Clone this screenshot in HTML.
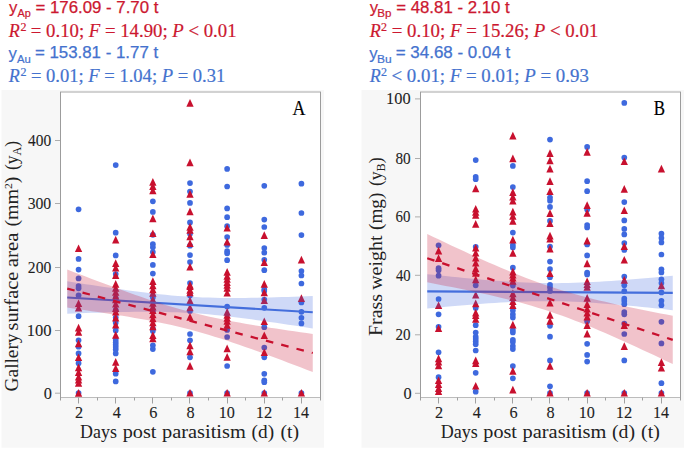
<!DOCTYPE html>
<html><head><meta charset="utf-8"><style>
html,body{margin:0;padding:0;background:#fff;width:685px;height:449px;overflow:hidden}
svg{display:block}

</style></head><body>
<svg width="685" height="449" viewBox="0 0 685 449">
<rect width="685" height="449" fill="#fff"/>
<rect x="1.5" y="90" width="322.5" height="357.7" fill="#f7f7f7"/>
<rect x="60.5" y="91.5" width="260" height="306" fill="#fff"/>
<g fill="rgb(62,105,222)"><circle cx="78.57" cy="209.30" r="2.85"/><circle cx="78.57" cy="258.90" r="2.85"/><circle cx="78.57" cy="269.60" r="2.85"/><circle cx="78.57" cy="278.40" r="2.85"/><circle cx="78.57" cy="286.00" r="2.85"/><circle cx="78.57" cy="288.30" r="2.85"/><circle cx="78.57" cy="295.40" r="2.85"/><circle cx="78.57" cy="316.20" r="2.85"/><circle cx="78.57" cy="340.30" r="2.85"/><circle cx="78.57" cy="346.70" r="2.85"/><circle cx="78.57" cy="353.40" r="2.85"/><circle cx="78.57" cy="363.20" r="2.85"/><circle cx="78.57" cy="393.00" r="2.85"/><circle cx="115.71" cy="165.10" r="2.85"/><circle cx="115.71" cy="232.70" r="2.85"/><circle cx="115.71" cy="255.40" r="2.85"/><circle cx="115.71" cy="274.00" r="2.85"/><circle cx="115.71" cy="298.00" r="2.85"/><circle cx="115.71" cy="310.00" r="2.85"/><circle cx="115.71" cy="317.50" r="2.85"/><circle cx="115.71" cy="322.80" r="2.85"/><circle cx="115.71" cy="330.40" r="2.85"/><circle cx="115.71" cy="340.10" r="2.85"/><circle cx="115.71" cy="342.50" r="2.85"/><circle cx="115.71" cy="344.80" r="2.85"/><circle cx="115.71" cy="347.10" r="2.85"/><circle cx="115.71" cy="349.50" r="2.85"/><circle cx="115.71" cy="353.40" r="2.85"/><circle cx="115.71" cy="373.70" r="2.85"/><circle cx="115.71" cy="381.40" r="2.85"/><circle cx="152.86" cy="201.30" r="2.85"/><circle cx="152.86" cy="211.90" r="2.85"/><circle cx="152.86" cy="234.80" r="2.85"/><circle cx="152.86" cy="244.20" r="2.85"/><circle cx="152.86" cy="247.30" r="2.85"/><circle cx="152.86" cy="252.00" r="2.85"/><circle cx="152.86" cy="264.90" r="2.85"/><circle cx="152.86" cy="273.60" r="2.85"/><circle cx="152.86" cy="297.60" r="2.85"/><circle cx="152.86" cy="311.40" r="2.85"/><circle cx="152.86" cy="328.70" r="2.85"/><circle cx="152.86" cy="331.00" r="2.85"/><circle cx="152.86" cy="345.30" r="2.85"/><circle cx="152.86" cy="349.10" r="2.85"/><circle cx="152.86" cy="371.80" r="2.85"/><circle cx="190.00" cy="183.10" r="2.85"/><circle cx="190.00" cy="191.60" r="2.85"/><circle cx="190.00" cy="202.90" r="2.85"/><circle cx="190.00" cy="222.40" r="2.85"/><circle cx="190.00" cy="233.70" r="2.85"/><circle cx="190.00" cy="245.70" r="2.85"/><circle cx="190.00" cy="255.10" r="2.85"/><circle cx="190.00" cy="262.10" r="2.85"/><circle cx="190.00" cy="283.10" r="2.85"/><circle cx="190.00" cy="295.60" r="2.85"/><circle cx="190.00" cy="310.90" r="2.85"/><circle cx="190.00" cy="334.00" r="2.85"/><circle cx="190.00" cy="340.30" r="2.85"/><circle cx="190.00" cy="357.30" r="2.85"/><circle cx="190.00" cy="393.00" r="2.85"/><circle cx="227.14" cy="168.90" r="2.85"/><circle cx="227.14" cy="186.50" r="2.85"/><circle cx="227.14" cy="208.40" r="2.85"/><circle cx="227.14" cy="217.20" r="2.85"/><circle cx="227.14" cy="226.20" r="2.85"/><circle cx="227.14" cy="237.10" r="2.85"/><circle cx="227.14" cy="245.00" r="2.85"/><circle cx="227.14" cy="251.20" r="2.85"/><circle cx="227.14" cy="253.50" r="2.85"/><circle cx="227.14" cy="260.20" r="2.85"/><circle cx="227.14" cy="306.50" r="2.85"/><circle cx="227.14" cy="330.00" r="2.85"/><circle cx="227.14" cy="337.00" r="2.85"/><circle cx="227.14" cy="366.00" r="2.85"/><circle cx="227.14" cy="393.00" r="2.85"/><circle cx="264.28" cy="185.80" r="2.85"/><circle cx="264.28" cy="219.60" r="2.85"/><circle cx="264.28" cy="227.00" r="2.85"/><circle cx="264.28" cy="248.10" r="2.85"/><circle cx="264.28" cy="252.70" r="2.85"/><circle cx="264.28" cy="259.80" r="2.85"/><circle cx="264.28" cy="270.20" r="2.85"/><circle cx="264.28" cy="289.40" r="2.85"/><circle cx="264.28" cy="291.00" r="2.85"/><circle cx="264.28" cy="299.50" r="2.85"/><circle cx="264.28" cy="307.80" r="2.85"/><circle cx="264.28" cy="327.20" r="2.85"/><circle cx="264.28" cy="347.50" r="2.85"/><circle cx="264.28" cy="357.30" r="2.85"/><circle cx="264.28" cy="373.80" r="2.85"/><circle cx="264.28" cy="380.30" r="2.85"/><circle cx="264.28" cy="382.20" r="2.85"/><circle cx="264.28" cy="393.00" r="2.85"/><circle cx="301.42" cy="183.70" r="2.85"/><circle cx="301.42" cy="213.00" r="2.85"/><circle cx="301.42" cy="235.10" r="2.85"/><circle cx="301.42" cy="271.00" r="2.85"/><circle cx="301.42" cy="275.50" r="2.85"/><circle cx="301.42" cy="283.50" r="2.85"/><circle cx="301.42" cy="302.40" r="2.85"/><circle cx="301.42" cy="311.80" r="2.85"/><circle cx="301.42" cy="317.80" r="2.85"/><circle cx="301.42" cy="323.40" r="2.85"/><circle cx="301.42" cy="393.00" r="2.85"/></g>
<g fill="rgb(200,16,46)"><path d="M78.57,244.40L82.22,252.10L74.92,252.10Z"/><path d="M78.57,299.40L82.22,307.10L74.92,307.10Z"/><path d="M78.57,303.90L82.22,311.60L74.92,311.60Z"/><path d="M78.57,323.70L82.22,331.40L74.92,331.40Z"/><path d="M78.57,328.10L82.22,335.80L74.92,335.80Z"/><path d="M78.57,339.50L82.22,347.20L74.92,347.20Z"/><path d="M78.57,353.40L82.22,361.10L74.92,361.10Z"/><path d="M78.57,363.50L82.22,371.20L74.92,371.20Z"/><path d="M78.57,368.20L82.22,375.90L74.92,375.90Z"/><path d="M78.57,372.90L82.22,380.60L74.92,380.60Z"/><path d="M78.57,375.70L82.22,383.40L74.92,383.40Z"/><path d="M78.57,379.10L82.22,386.80L74.92,386.80Z"/><path d="M78.57,389.10L82.22,396.80L74.92,396.80Z"/><path d="M115.71,235.80L119.36,243.50L112.06,243.50Z"/><path d="M115.71,259.20L119.36,266.90L112.06,266.90Z"/><path d="M115.71,263.80L119.36,271.50L112.06,271.50Z"/><path d="M115.71,271.30L119.36,279.00L112.06,279.00Z"/><path d="M115.71,280.10L119.36,287.80L112.06,287.80Z"/><path d="M115.71,284.10L119.36,291.80L112.06,291.80Z"/><path d="M115.71,288.10L119.36,295.80L112.06,295.80Z"/><path d="M115.71,292.10L119.36,299.80L112.06,299.80Z"/><path d="M115.71,295.60L119.36,303.30L112.06,303.30Z"/><path d="M115.71,299.90L119.36,307.60L112.06,307.60Z"/><path d="M115.71,304.30L119.36,312.00L112.06,312.00Z"/><path d="M115.71,307.90L119.36,315.60L112.06,315.60Z"/><path d="M115.71,313.70L119.36,321.40L112.06,321.40Z"/><path d="M115.71,320.80L119.36,328.50L112.06,328.50Z"/><path d="M115.71,331.10L119.36,338.80L112.06,338.80Z"/><path d="M115.71,358.10L119.36,365.80L112.06,365.80Z"/><path d="M115.71,364.30L119.36,372.00L112.06,372.00Z"/><path d="M152.86,178.10L156.51,185.80L149.21,185.80Z"/><path d="M152.86,182.30L156.51,190.00L149.21,190.00Z"/><path d="M152.86,186.60L156.51,194.30L149.21,194.30Z"/><path d="M152.86,214.60L156.51,222.30L149.21,222.30Z"/><path d="M152.86,229.40L156.51,237.10L149.21,237.10Z"/><path d="M152.86,250.40L156.51,258.10L149.21,258.10Z"/><path d="M152.86,277.30L156.51,285.00L149.21,285.00Z"/><path d="M152.86,281.50L156.51,289.20L149.21,289.20Z"/><path d="M152.86,285.50L156.51,293.20L149.21,293.20Z"/><path d="M152.86,289.00L156.51,296.70L149.21,296.70Z"/><path d="M152.86,295.60L156.51,303.30L149.21,303.30Z"/><path d="M152.86,299.10L156.51,306.80L149.21,306.80Z"/><path d="M152.86,302.70L156.51,310.40L149.21,310.40Z"/><path d="M152.86,306.40L156.51,314.10L149.21,314.10Z"/><path d="M152.86,310.50L156.51,318.20L149.21,318.20Z"/><path d="M152.86,314.50L156.51,322.20L149.21,322.20Z"/><path d="M152.86,318.50L156.51,326.20L149.21,326.20Z"/><path d="M152.86,322.50L156.51,330.20L149.21,330.20Z"/><path d="M152.86,331.30L156.51,339.00L149.21,339.00Z"/><path d="M152.86,334.60L156.51,342.30L149.21,342.30Z"/><path d="M190.00,99.00L193.65,106.70L186.35,106.70Z"/><path d="M190.00,158.60L193.65,166.30L186.35,166.30Z"/><path d="M190.00,190.10L193.65,197.80L186.35,197.80Z"/><path d="M190.00,207.50L193.65,215.20L186.35,215.20Z"/><path d="M190.00,223.10L193.65,230.80L186.35,230.80Z"/><path d="M190.00,226.10L193.65,233.80L186.35,233.80Z"/><path d="M190.00,232.50L193.65,240.20L186.35,240.20Z"/><path d="M190.00,239.20L193.65,246.90L186.35,246.90Z"/><path d="M190.00,262.90L193.65,270.60L186.35,270.60Z"/><path d="M190.00,281.10L193.65,288.80L186.35,288.80Z"/><path d="M190.00,282.30L193.65,290.00L186.35,290.00Z"/><path d="M190.00,286.10L193.65,293.80L186.35,293.80Z"/><path d="M190.00,288.60L193.65,296.30L186.35,296.30Z"/><path d="M190.00,296.60L193.65,304.30L186.35,304.30Z"/><path d="M190.00,303.50L193.65,311.20L186.35,311.20Z"/><path d="M190.00,313.10L193.65,320.80L186.35,320.80Z"/><path d="M190.00,341.50L193.65,349.20L186.35,349.20Z"/><path d="M190.00,347.60L193.65,355.30L186.35,355.30Z"/><path d="M190.00,362.10L193.65,369.80L186.35,369.80Z"/><path d="M190.00,388.90L193.65,396.60L186.35,396.60Z"/><path d="M227.14,223.90L230.79,231.60L223.49,231.60Z"/><path d="M227.14,237.90L230.79,245.60L223.49,245.60Z"/><path d="M227.14,268.00L230.79,275.70L223.49,275.70Z"/><path d="M227.14,272.10L230.79,279.80L223.49,279.80Z"/><path d="M227.14,275.10L230.79,282.80L223.49,282.80Z"/><path d="M227.14,278.20L230.79,285.90L223.49,285.90Z"/><path d="M227.14,281.10L230.79,288.80L223.49,288.80Z"/><path d="M227.14,284.00L230.79,291.70L223.49,291.70Z"/><path d="M227.14,288.90L230.79,296.60L223.49,296.60Z"/><path d="M227.14,308.10L230.79,315.80L223.49,315.80Z"/><path d="M227.14,311.10L230.79,318.80L223.49,318.80Z"/><path d="M227.14,314.10L230.79,321.80L223.49,321.80Z"/><path d="M227.14,317.10L230.79,324.80L223.49,324.80Z"/><path d="M227.14,321.10L230.79,328.80L223.49,328.80Z"/><path d="M227.14,344.50L230.79,352.20L223.49,352.20Z"/><path d="M227.14,353.10L230.79,360.80L223.49,360.80Z"/><path d="M227.14,388.90L230.79,396.60L223.49,396.60Z"/><path d="M264.28,231.20L267.93,238.90L260.63,238.90Z"/><path d="M264.28,258.20L267.93,265.90L260.63,265.90Z"/><path d="M264.28,280.00L267.93,287.70L260.63,287.70Z"/><path d="M264.28,288.60L267.93,296.30L260.63,296.30Z"/><path d="M264.28,296.40L267.93,304.10L260.63,304.10Z"/><path d="M264.28,317.40L267.93,325.10L260.63,325.10Z"/><path d="M264.28,331.40L267.93,339.10L260.63,339.10Z"/><path d="M264.28,348.40L267.93,356.10L260.63,356.10Z"/><path d="M264.28,388.90L267.93,396.60L260.63,396.60Z"/><path d="M301.42,255.80L305.07,263.50L297.77,263.50Z"/><path d="M301.42,294.20L305.07,301.90L297.77,301.90Z"/><path d="M301.42,388.90L305.07,396.60L297.77,396.60Z"/></g>
<path d="M67.24,281.23 L73.38,282.20 L79.52,283.17 L85.66,284.13 L91.79,285.08 L97.93,286.01 L104.07,286.93 L110.21,287.84 L116.34,288.73 L122.48,289.60 L128.62,290.44 L134.76,291.26 L140.90,292.05 L147.03,292.80 L153.17,293.52 L159.31,294.19 L165.45,294.82 L171.58,295.39 L177.72,295.91 L183.86,296.37 L190.00,296.77 L196.13,297.11 L202.27,297.39 L208.41,297.61 L214.55,297.78 L220.69,297.89 L226.82,297.96 L232.96,297.98 L239.10,297.97 L245.24,297.92 L251.37,297.84 L257.51,297.74 L263.65,297.61 L269.79,297.46 L275.93,297.29 L282.06,297.11 L288.20,296.92 L294.34,296.71 L300.48,296.49 L306.61,296.26 L312.75,296.03 L312.75,328.51 L306.61,327.54 L300.48,326.57 L294.34,325.61 L288.20,324.66 L282.06,323.73 L275.93,322.81 L269.79,321.90 L263.65,321.01 L257.51,320.15 L251.37,319.30 L245.24,318.48 L239.10,317.70 L232.96,316.94 L226.82,316.23 L220.69,315.55 L214.55,314.93 L208.41,314.35 L202.27,313.83 L196.13,313.37 L190.00,312.97 L183.86,312.63 L177.72,312.35 L171.58,312.13 L165.45,311.97 L159.31,311.85 L153.17,311.79 L147.03,311.76 L140.90,311.78 L134.76,311.82 L128.62,311.90 L122.48,312.01 L116.34,312.13 L110.21,312.28 L104.07,312.45 L97.93,312.63 L91.79,312.82 L85.66,313.03 L79.52,313.25 L73.38,313.48 L67.24,313.71 Z" fill="rgb(62,105,222)" fill-opacity="0.25"/>
<line x1="67.24" y1="297.47" x2="312.75" y2="312.27" stroke="rgb(68,110,220)" stroke-width="2.1"/>
<path d="M67.24,269.58 L73.38,271.93 L79.52,274.27 L85.66,276.61 L91.79,278.93 L97.93,281.24 L104.07,283.53 L110.21,285.81 L116.34,288.06 L122.48,290.30 L128.62,292.50 L134.76,294.68 L140.90,296.82 L147.03,298.92 L153.17,300.98 L159.31,302.98 L165.45,304.92 L171.58,306.80 L177.72,308.61 L183.86,310.34 L190.00,311.99 L196.13,313.55 L202.27,315.04 L208.41,316.46 L214.55,317.80 L220.69,319.08 L226.82,320.29 L232.96,321.46 L239.10,322.58 L245.24,323.65 L251.37,324.70 L257.51,325.71 L263.65,326.69 L269.79,327.66 L275.93,328.60 L282.06,329.53 L288.20,330.44 L294.34,331.33 L300.48,332.22 L306.61,333.10 L312.75,333.96 L312.75,371.99 L306.61,369.64 L300.48,367.30 L294.34,364.96 L288.20,362.64 L282.06,360.33 L275.93,358.04 L269.79,355.76 L263.65,353.51 L257.51,351.27 L251.37,349.07 L245.24,346.89 L239.10,344.75 L232.96,342.65 L226.82,340.59 L220.69,338.59 L214.55,336.65 L208.41,334.77 L202.27,332.96 L196.13,331.23 L190.00,329.59 L183.86,328.02 L177.72,326.53 L171.58,325.11 L165.45,323.77 L159.31,322.49 L153.17,321.28 L147.03,320.11 L140.90,318.99 L134.76,317.92 L128.62,316.87 L122.48,315.86 L116.34,314.88 L110.21,313.91 L104.07,312.97 L97.93,312.04 L91.79,311.13 L85.66,310.24 L79.52,309.35 L73.38,308.47 L67.24,307.61 Z" fill="rgb(200,16,46)" fill-opacity="0.25"/>
<line x1="67.24" y1="288.59" x2="312.75" y2="352.98" stroke="rgb(200,16,46)" stroke-width="2.25" stroke-dasharray="7.6 8.2"/>
<path d="M60,92 H321" stroke="#a6a6a6" stroke-width="1" fill="none"/>
<path d="M60,397.5 H321" stroke="#bcbcbc" stroke-width="1" fill="none"/>
<path d="M60.5,92 V400.5 M320.5,92 V400.5" stroke="#9c9c9c" stroke-width="1" fill="none"/>
<path d="M78.5,397.5V403.5M115.5,397.5V403.5M152.5,397.5V403.5M189.5,397.5V403.5M227.5,397.5V403.5M264.5,397.5V403.5M301.5,397.5V403.5M97.5,397.5V400.5M134.5,397.5V400.5M171.5,397.5V400.5M208.5,397.5V400.5M245.5,397.5V400.5M282.5,397.5V400.5" stroke="#a0a0a0" stroke-width="1" fill="none"/>
<path d="M55,393.20H60M55,330.50H60M55,267.50H60M55,203.50H60M55,140.50H60" stroke="#adadad" stroke-width="1" fill="none"/>
<g font-family="Liberation Serif" font-size="16.3" fill="#1e1e1e" stroke="#1e1e1e" stroke-width="0.1"><text x="75.12" y="417.8">2</text><text x="112.66" y="417.8">4</text><text x="149.19" y="417.8">6</text><text x="186.39" y="417.8">8</text><text x="218.68" y="417.8" textLength="16.14" lengthAdjust="spacingAndGlyphs">10</text><text x="255.70" y="417.8" textLength="16.48" lengthAdjust="spacingAndGlyphs">12</text><text x="292.90" y="417.8" textLength="16.00" lengthAdjust="spacingAndGlyphs">14</text><text x="43.85" y="398.50">0</text><text x="26.65" y="335.80" textLength="24.77" lengthAdjust="spacingAndGlyphs">100</text><text x="27.86" y="272.80" textLength="23.44" lengthAdjust="spacingAndGlyphs">200</text><text x="27.65" y="208.80" textLength="23.58" lengthAdjust="spacingAndGlyphs">300</text><text x="28.12" y="145.80" textLength="23.13" lengthAdjust="spacingAndGlyphs">400</text></g>
<text x="80.11" y="437.8" font-family="Liberation Serif" font-size="18" fill="#222" textLength="36.79" lengthAdjust="spacingAndGlyphs">Days</text>
<text x="122.71" y="437.8" font-family="Liberation Serif" font-size="18" fill="#222" textLength="33.78" lengthAdjust="spacingAndGlyphs">post</text>
<text x="162.08" y="437.8" font-family="Liberation Serif" font-size="18" fill="#222" textLength="83.72" lengthAdjust="spacingAndGlyphs">parasitism</text>
<text x="251.62" y="437.8" font-family="Liberation Serif" font-size="18" fill="#222" textLength="22.48" lengthAdjust="spacingAndGlyphs">(d)</text>
<text x="280.56" y="437.8" font-family="Liberation Serif" font-size="18" fill="#222" textLength="18.64" lengthAdjust="spacingAndGlyphs">(t)</text>
<text x="292.48" y="114.8" font-family="Liberation Serif" font-size="21.5" fill="#000" stroke="#000" stroke-width="0.2" textLength="12.91" lengthAdjust="spacingAndGlyphs">A</text>
<text transform="translate(17.90,391.38) rotate(-90)" font-family="Liberation Serif" font-size="18" fill="#222" textLength="57.92" lengthAdjust="spacingAndGlyphs">Gallery</text>
<text transform="translate(17.90,330.56) rotate(-90)" font-family="Liberation Serif" font-size="18" fill="#222" textLength="58.89" lengthAdjust="spacingAndGlyphs">surface</text>
<text transform="translate(17.90,267.16) rotate(-90)" font-family="Liberation Serif" font-size="18" fill="#222" textLength="34.70" lengthAdjust="spacingAndGlyphs">area</text>
<text transform="translate(17.90,226.54) rotate(-90)" font-family="Liberation Serif" font-size="18" fill="#222" textLength="50.02" lengthAdjust="spacingAndGlyphs">(mm<tspan font-size="10.5" dy="-6">2</tspan><tspan dy="6">)</tspan></text>
<text transform="translate(17.90,170.00) rotate(-90)" font-family="Liberation Serif" font-size="18" fill="#222" textLength="29.11" lengthAdjust="spacingAndGlyphs">(y<tspan font-size="12.5" dy="3">A</tspan><tspan dy="-3">)</tspan></text>
<rect x="361.5" y="90" width="322.5" height="357.7" fill="#f7f7f7"/>
<rect x="420.5" y="91.5" width="260" height="306" fill="#fff"/>
<g fill="rgb(62,105,222)"><circle cx="438.57" cy="245.30" r="2.85"/><circle cx="438.57" cy="268.20" r="2.85"/><circle cx="438.57" cy="270.20" r="2.85"/><circle cx="438.57" cy="275.70" r="2.85"/><circle cx="438.57" cy="299.00" r="2.85"/><circle cx="438.57" cy="314.30" r="2.85"/><circle cx="438.57" cy="326.80" r="2.85"/><circle cx="438.57" cy="352.30" r="2.85"/><circle cx="438.57" cy="377.20" r="2.85"/><circle cx="475.71" cy="160.10" r="2.85"/><circle cx="475.71" cy="176.80" r="2.85"/><circle cx="475.71" cy="179.20" r="2.85"/><circle cx="475.71" cy="246.80" r="2.85"/><circle cx="475.71" cy="285.30" r="2.85"/><circle cx="475.71" cy="308.00" r="2.85"/><circle cx="475.71" cy="325.20" r="2.85"/><circle cx="475.71" cy="332.50" r="2.85"/><circle cx="475.71" cy="336.80" r="2.85"/><circle cx="475.71" cy="339.10" r="2.85"/><circle cx="475.71" cy="341.50" r="2.85"/><circle cx="475.71" cy="344.20" r="2.85"/><circle cx="475.71" cy="350.50" r="2.85"/><circle cx="475.71" cy="372.80" r="2.85"/><circle cx="475.71" cy="391.70" r="2.85"/><circle cx="512.86" cy="165.90" r="2.85"/><circle cx="512.86" cy="187.00" r="2.85"/><circle cx="512.86" cy="232.60" r="2.85"/><circle cx="512.86" cy="245.10" r="2.85"/><circle cx="512.86" cy="247.40" r="2.85"/><circle cx="512.86" cy="267.70" r="2.85"/><circle cx="512.86" cy="285.60" r="2.85"/><circle cx="512.86" cy="310.50" r="2.85"/><circle cx="512.86" cy="314.40" r="2.85"/><circle cx="512.86" cy="317.60" r="2.85"/><circle cx="512.86" cy="330.00" r="2.85"/><circle cx="512.86" cy="332.40" r="2.85"/><circle cx="512.86" cy="339.80" r="2.85"/><circle cx="512.86" cy="342.10" r="2.85"/><circle cx="512.86" cy="346.00" r="2.85"/><circle cx="512.86" cy="349.10" r="2.85"/><circle cx="512.86" cy="366.00" r="2.85"/><circle cx="512.86" cy="378.30" r="2.85"/><circle cx="550.00" cy="139.60" r="2.85"/><circle cx="550.00" cy="197.60" r="2.85"/><circle cx="550.00" cy="200.70" r="2.85"/><circle cx="550.00" cy="206.90" r="2.85"/><circle cx="550.00" cy="220.90" r="2.85"/><circle cx="550.00" cy="246.60" r="2.85"/><circle cx="550.00" cy="261.60" r="2.85"/><circle cx="550.00" cy="269.00" r="2.85"/><circle cx="550.00" cy="277.20" r="2.85"/><circle cx="550.00" cy="284.80" r="2.85"/><circle cx="550.00" cy="287.50" r="2.85"/><circle cx="550.00" cy="291.00" r="2.85"/><circle cx="550.00" cy="325.80" r="2.85"/><circle cx="550.00" cy="336.70" r="2.85"/><circle cx="550.00" cy="360.40" r="2.85"/><circle cx="550.00" cy="386.30" r="2.85"/><circle cx="550.00" cy="393.00" r="2.85"/><circle cx="587.14" cy="146.90" r="2.85"/><circle cx="587.14" cy="181.20" r="2.85"/><circle cx="587.14" cy="191.20" r="2.85"/><circle cx="587.14" cy="209.60" r="2.85"/><circle cx="587.14" cy="225.00" r="2.85"/><circle cx="587.14" cy="227.50" r="2.85"/><circle cx="587.14" cy="244.50" r="2.85"/><circle cx="587.14" cy="255.40" r="2.85"/><circle cx="587.14" cy="272.60" r="2.85"/><circle cx="587.14" cy="274.40" r="2.85"/><circle cx="587.14" cy="321.30" r="2.85"/><circle cx="587.14" cy="343.80" r="2.85"/><circle cx="587.14" cy="354.90" r="2.85"/><circle cx="587.14" cy="361.60" r="2.85"/><circle cx="587.14" cy="393.00" r="2.85"/><circle cx="624.28" cy="102.90" r="2.85"/><circle cx="624.28" cy="157.60" r="2.85"/><circle cx="624.28" cy="202.10" r="2.85"/><circle cx="624.28" cy="220.40" r="2.85"/><circle cx="624.28" cy="228.90" r="2.85"/><circle cx="624.28" cy="234.40" r="2.85"/><circle cx="624.28" cy="243.00" r="2.85"/><circle cx="624.28" cy="250.00" r="2.85"/><circle cx="624.28" cy="276.50" r="2.85"/><circle cx="624.28" cy="285.30" r="2.85"/><circle cx="624.28" cy="291.20" r="2.85"/><circle cx="624.28" cy="298.70" r="2.85"/><circle cx="624.28" cy="301.00" r="2.85"/><circle cx="624.28" cy="304.20" r="2.85"/><circle cx="624.28" cy="312.00" r="2.85"/><circle cx="624.28" cy="314.30" r="2.85"/><circle cx="624.28" cy="323.70" r="2.85"/><circle cx="624.28" cy="334.00" r="2.85"/><circle cx="624.28" cy="360.40" r="2.85"/><circle cx="624.28" cy="393.00" r="2.85"/><circle cx="661.42" cy="233.70" r="2.85"/><circle cx="661.42" cy="238.00" r="2.85"/><circle cx="661.42" cy="242.40" r="2.85"/><circle cx="661.42" cy="254.50" r="2.85"/><circle cx="661.42" cy="269.30" r="2.85"/><circle cx="661.42" cy="272.40" r="2.85"/><circle cx="661.42" cy="279.30" r="2.85"/><circle cx="661.42" cy="283.00" r="2.85"/><circle cx="661.42" cy="292.40" r="2.85"/><circle cx="661.42" cy="300.80" r="2.85"/><circle cx="661.42" cy="305.20" r="2.85"/><circle cx="661.42" cy="321.80" r="2.85"/><circle cx="661.42" cy="343.40" r="2.85"/><circle cx="661.42" cy="383.20" r="2.85"/><circle cx="661.42" cy="393.00" r="2.85"/></g>
<g fill="rgb(200,16,46)"><path d="M438.57,246.70L442.22,254.40L434.92,254.40Z"/><path d="M438.57,254.30L442.22,262.00L434.92,262.00Z"/><path d="M438.57,301.40L442.22,309.10L434.92,309.10Z"/><path d="M438.57,324.40L442.22,332.10L434.92,332.10Z"/><path d="M438.57,354.60L442.22,362.30L434.92,362.30Z"/><path d="M438.57,357.70L442.22,365.40L434.92,365.40Z"/><path d="M438.57,361.60L442.22,369.30L434.92,369.30Z"/><path d="M438.57,376.40L442.22,384.10L434.92,384.10Z"/><path d="M438.57,380.30L442.22,388.00L434.92,388.00Z"/><path d="M438.57,384.20L442.22,391.90L434.92,391.90Z"/><path d="M438.57,387.30L442.22,395.00L434.92,395.00Z"/><path d="M475.71,184.60L479.36,192.30L472.06,192.30Z"/><path d="M475.71,204.90L479.36,212.60L472.06,212.60Z"/><path d="M475.71,208.00L479.36,215.70L472.06,215.70Z"/><path d="M475.71,211.10L479.36,218.80L472.06,218.80Z"/><path d="M475.71,220.10L479.36,227.80L472.06,227.80Z"/><path d="M475.71,243.90L479.36,251.60L472.06,251.60Z"/><path d="M475.71,248.90L479.36,256.60L472.06,256.60Z"/><path d="M475.71,253.90L479.36,261.60L472.06,261.60Z"/><path d="M475.71,258.90L479.36,266.60L472.06,266.60Z"/><path d="M475.71,264.50L479.36,272.20L472.06,272.20Z"/><path d="M475.71,269.00L479.36,276.70L472.06,276.70Z"/><path d="M475.71,275.60L479.36,283.30L472.06,283.30Z"/><path d="M475.71,290.90L479.36,298.60L472.06,298.60Z"/><path d="M475.71,299.50L479.36,307.20L472.06,307.20Z"/><path d="M475.71,308.80L479.36,316.50L472.06,316.50Z"/><path d="M475.71,311.20L479.36,318.90L472.06,318.90Z"/><path d="M475.71,315.10L479.36,322.80L472.06,322.80Z"/><path d="M475.71,356.60L479.36,364.30L472.06,364.30Z"/><path d="M475.71,359.30L479.36,367.00L472.06,367.00Z"/><path d="M475.71,381.90L479.36,389.60L472.06,389.60Z"/><path d="M512.86,131.80L516.50,139.50L509.21,139.50Z"/><path d="M512.86,154.60L516.50,162.30L509.21,162.30Z"/><path d="M512.86,188.20L516.50,195.90L509.21,195.90Z"/><path d="M512.86,192.90L516.50,200.60L509.21,200.60Z"/><path d="M512.86,196.80L516.50,204.50L509.21,204.50Z"/><path d="M512.86,207.70L516.50,215.40L509.21,215.40Z"/><path d="M512.86,212.10L516.50,219.80L509.21,219.80Z"/><path d="M512.86,217.00L516.50,224.70L509.21,224.70Z"/><path d="M512.86,235.70L516.50,243.40L509.21,243.40Z"/><path d="M512.86,249.00L516.50,256.70L509.21,256.70Z"/><path d="M512.86,267.70L516.50,275.40L509.21,275.40Z"/><path d="M512.86,270.80L516.50,278.50L509.21,278.50Z"/><path d="M512.86,273.90L516.50,281.60L509.21,281.60Z"/><path d="M512.86,277.00L516.50,284.70L509.21,284.70Z"/><path d="M512.86,289.50L516.50,297.20L509.21,297.20Z"/><path d="M512.86,293.40L516.50,301.10L509.21,301.10Z"/><path d="M512.86,297.30L516.50,305.00L509.21,305.00Z"/><path d="M512.86,301.20L516.50,308.90L509.21,308.90Z"/><path d="M512.86,320.70L516.50,328.40L509.21,328.40Z"/><path d="M512.86,367.10L516.50,374.80L509.21,374.80Z"/><path d="M512.86,385.80L516.50,393.50L509.21,393.50Z"/><path d="M550.00,149.20L553.65,156.90L546.35,156.90Z"/><path d="M550.00,156.60L553.65,164.30L546.35,164.30Z"/><path d="M550.00,164.80L553.65,172.50L546.35,172.50Z"/><path d="M550.00,177.30L553.65,185.00L546.35,185.00Z"/><path d="M550.00,187.40L553.65,195.10L546.35,195.10Z"/><path d="M550.00,209.20L553.65,216.90L546.35,216.90Z"/><path d="M550.00,219.40L553.65,227.10L546.35,227.10Z"/><path d="M550.00,231.80L553.65,239.50L546.35,239.50Z"/><path d="M550.00,234.90L553.65,242.60L546.35,242.60Z"/><path d="M550.00,244.80L553.65,252.50L546.35,252.50Z"/><path d="M550.00,269.40L553.65,277.10L546.35,277.10Z"/><path d="M550.00,298.80L553.65,306.50L546.35,306.50Z"/><path d="M550.00,311.10L553.65,318.80L546.35,318.80Z"/><path d="M550.00,317.00L553.65,324.70L546.35,324.70Z"/><path d="M550.00,362.10L553.65,369.80L546.35,369.80Z"/><path d="M550.00,388.90L553.65,396.60L546.35,396.60Z"/><path d="M587.14,148.10L590.79,155.80L583.49,155.80Z"/><path d="M587.14,201.30L590.79,209.00L583.49,209.00Z"/><path d="M587.14,209.10L590.79,216.80L583.49,216.80Z"/><path d="M587.14,236.70L590.79,244.40L583.49,244.40Z"/><path d="M587.14,259.60L590.79,267.30L583.49,267.30Z"/><path d="M587.14,277.40L590.79,285.10L583.49,285.10Z"/><path d="M587.14,280.30L590.79,288.00L583.49,288.00Z"/><path d="M587.14,283.10L590.79,290.80L583.49,290.80Z"/><path d="M587.14,294.00L590.79,301.70L583.49,301.70Z"/><path d="M587.14,300.30L590.79,308.00L583.49,308.00Z"/><path d="M587.14,304.90L590.79,312.60L583.49,312.60Z"/><path d="M587.14,308.80L590.79,316.50L583.49,316.50Z"/><path d="M587.14,312.70L590.79,320.40L583.49,320.40Z"/><path d="M587.14,321.30L590.79,329.00L583.49,329.00Z"/><path d="M587.14,329.80L590.79,337.50L583.49,337.50Z"/><path d="M587.14,388.90L590.79,396.60L583.49,396.60Z"/><path d="M624.28,157.40L627.93,165.10L620.63,165.10Z"/><path d="M624.28,185.10L627.93,192.80L620.63,192.80Z"/><path d="M624.28,206.40L627.93,214.10L620.63,214.10Z"/><path d="M624.28,242.20L627.93,249.90L620.63,249.90Z"/><path d="M624.28,255.90L627.93,263.60L620.63,263.60Z"/><path d="M624.28,276.10L627.93,283.80L620.63,283.80Z"/><path d="M624.28,321.30L627.93,329.00L620.63,329.00Z"/><path d="M624.28,342.30L627.93,350.00L620.63,350.00Z"/><path d="M624.28,388.90L627.93,396.60L620.63,396.60Z"/><path d="M661.42,164.80L665.07,172.50L657.77,172.50Z"/><path d="M661.42,281.60L665.07,289.30L657.77,289.30Z"/><path d="M661.42,358.30L665.07,366.00L657.77,366.00Z"/><path d="M661.42,363.90L665.07,371.60L657.77,371.60Z"/><path d="M661.42,388.90L665.07,396.60L657.77,396.60Z"/></g>
<path d="M427.24,274.15 L433.38,274.81 L439.52,275.46 L445.66,276.10 L451.79,276.73 L457.93,277.34 L464.07,277.94 L470.21,278.52 L476.34,279.09 L482.48,279.63 L488.62,280.14 L494.76,280.63 L500.90,281.09 L507.03,281.51 L513.17,281.89 L519.31,282.23 L525.45,282.52 L531.58,282.76 L537.72,282.95 L543.86,283.08 L550.00,283.14 L556.13,283.15 L562.27,283.10 L568.41,283.00 L574.55,282.83 L580.69,282.62 L586.82,282.36 L592.96,282.05 L599.10,281.71 L605.24,281.33 L611.37,280.92 L617.51,280.48 L623.65,280.02 L629.79,279.54 L635.93,279.03 L642.06,278.51 L648.20,277.97 L654.34,277.42 L660.48,276.86 L666.61,276.29 L672.75,275.71 L672.75,310.14 L666.61,309.48 L660.48,308.83 L654.34,308.19 L648.20,307.56 L642.06,306.94 L635.93,306.35 L629.79,305.76 L623.65,305.20 L617.51,304.66 L611.37,304.15 L605.24,303.66 L599.10,303.20 L592.96,302.78 L586.82,302.40 L580.69,302.06 L574.55,301.77 L568.41,301.53 L562.27,301.34 L556.13,301.21 L550.00,301.14 L543.86,301.14 L537.72,301.19 L531.58,301.29 L525.45,301.45 L519.31,301.67 L513.17,301.93 L507.03,302.23 L500.90,302.58 L494.76,302.96 L488.62,303.37 L482.48,303.80 L476.34,304.27 L470.21,304.75 L464.07,305.26 L457.93,305.78 L451.79,306.31 L445.66,306.86 L439.52,307.43 L433.38,308.00 L427.24,308.58 Z" fill="rgb(62,105,222)" fill-opacity="0.25"/>
<line x1="427.24" y1="291.37" x2="672.75" y2="292.92" stroke="rgb(68,110,220)" stroke-width="2.1"/>
<path d="M427.24,234.02 L433.38,236.95 L439.52,239.86 L445.66,242.75 L451.79,245.63 L457.93,248.49 L464.07,251.33 L470.21,254.14 L476.34,256.93 L482.48,259.68 L488.62,262.40 L494.76,265.09 L500.90,267.73 L507.03,270.31 L513.17,272.85 L519.31,275.32 L525.45,277.72 L531.58,280.05 L537.72,282.31 L543.86,284.48 L550.00,286.56 L556.13,288.56 L562.27,290.48 L568.41,292.31 L574.55,294.07 L580.69,295.75 L586.82,297.37 L592.96,298.92 L599.10,300.42 L605.24,301.87 L611.37,303.27 L617.51,304.63 L623.65,305.97 L629.79,307.26 L635.93,308.54 L642.06,309.79 L648.20,311.01 L654.34,312.22 L660.48,313.41 L666.61,314.59 L672.75,315.76 L672.75,364.10 L666.61,361.18 L660.48,358.27 L654.34,355.37 L648.20,352.50 L642.06,349.64 L635.93,346.80 L629.79,343.99 L623.65,341.20 L617.51,338.44 L611.37,335.72 L605.24,333.04 L599.10,330.40 L592.96,327.81 L586.82,325.28 L580.69,322.81 L574.55,320.40 L568.41,318.07 L562.27,315.82 L556.13,313.65 L550.00,311.56 L543.86,309.56 L537.72,307.65 L531.58,305.81 L525.45,304.06 L519.31,302.37 L513.17,300.76 L507.03,299.21 L500.90,297.71 L494.76,296.26 L488.62,294.86 L482.48,293.49 L476.34,292.16 L470.21,290.86 L464.07,289.59 L457.93,288.34 L451.79,287.11 L445.66,285.90 L439.52,284.71 L433.38,283.53 L427.24,282.37 Z" fill="rgb(200,16,46)" fill-opacity="0.25"/>
<line x1="427.24" y1="258.20" x2="672.75" y2="339.93" stroke="rgb(200,16,46)" stroke-width="2.25" stroke-dasharray="7.6 8.2"/>
<path d="M420,92 H681" stroke="#a6a6a6" stroke-width="1" fill="none"/>
<path d="M420,397.5 H681" stroke="#bcbcbc" stroke-width="1" fill="none"/>
<path d="M420.5,92 V400.5 M680.5,92 V400.5" stroke="#9c9c9c" stroke-width="1" fill="none"/>
<path d="M438.5,397.5V403.5M475.5,397.5V403.5M512.5,397.5V403.5M549.5,397.5V403.5M587.5,397.5V403.5M624.5,397.5V403.5M661.5,397.5V403.5M457.5,397.5V400.5M494.5,397.5V400.5M531.5,397.5V400.5M568.5,397.5V400.5M605.5,397.5V400.5M642.5,397.5V400.5" stroke="#a0a0a0" stroke-width="1" fill="none"/>
<path d="M415,393.30H420M415,334.80H420M415,275.30H420M415,216.90H420M415,158.50H420M415,98.90H420" stroke="#adadad" stroke-width="1" fill="none"/>
<g font-family="Liberation Serif" font-size="16.3" fill="#1e1e1e" stroke="#1e1e1e" stroke-width="0.1"><text x="435.12" y="417.8">2</text><text x="472.66" y="417.8">4</text><text x="509.48" y="417.8">6</text><text x="546.39" y="417.8">8</text><text x="578.68" y="417.8" textLength="16.14" lengthAdjust="spacingAndGlyphs">10</text><text x="615.66" y="417.8" textLength="16.50" lengthAdjust="spacingAndGlyphs">12</text><text x="652.90" y="417.8" textLength="16.00" lengthAdjust="spacingAndGlyphs">14</text><text x="403.40" y="398.60">0</text><text x="395.55" y="340.10" textLength="15.07" lengthAdjust="spacingAndGlyphs">20</text><text x="395.92" y="280.60" textLength="14.69" lengthAdjust="spacingAndGlyphs">40</text><text x="395.54" y="222.20" textLength="14.86" lengthAdjust="spacingAndGlyphs">60</text><text x="395.44" y="163.80" textLength="15.23" lengthAdjust="spacingAndGlyphs">80</text><text x="386.14" y="104.20" textLength="24.50" lengthAdjust="spacingAndGlyphs">100</text></g>
<text x="440.71" y="437.8" font-family="Liberation Serif" font-size="18" fill="#222" textLength="37.00" lengthAdjust="spacingAndGlyphs">Days</text>
<text x="483.32" y="437.8" font-family="Liberation Serif" font-size="18" fill="#222" textLength="33.66" lengthAdjust="spacingAndGlyphs">post</text>
<text x="522.56" y="437.8" font-family="Liberation Serif" font-size="18" fill="#222" textLength="83.83" lengthAdjust="spacingAndGlyphs">parasitism</text>
<text x="612.06" y="437.8" font-family="Liberation Serif" font-size="18" fill="#222" textLength="23.00" lengthAdjust="spacingAndGlyphs">(d)</text>
<text x="641.04" y="437.8" font-family="Liberation Serif" font-size="18" fill="#222" textLength="18.83" lengthAdjust="spacingAndGlyphs">(t)</text>
<text x="653.84" y="114.8" font-family="Liberation Serif" font-size="21.5" fill="#000" stroke="#000" stroke-width="0.2" textLength="11.27" lengthAdjust="spacingAndGlyphs">B</text>
<text transform="translate(382.00,336.04) rotate(-90)" font-family="Liberation Serif" font-size="18" fill="#222" textLength="42.15" lengthAdjust="spacingAndGlyphs">Frass</text>
<text transform="translate(382.00,289.81) rotate(-90)" font-family="Liberation Serif" font-size="18" fill="#222" textLength="54.26" lengthAdjust="spacingAndGlyphs">weight</text>
<text transform="translate(382.00,230.00) rotate(-90)" font-family="Liberation Serif" font-size="18" fill="#222" textLength="37.31" lengthAdjust="spacingAndGlyphs">(mg)</text>
<text transform="translate(382.00,186.11) rotate(-90)" font-family="Liberation Serif" font-size="18" fill="#222" textLength="28.83" lengthAdjust="spacingAndGlyphs">(y<tspan font-size="12.5" dy="3">B</tspan><tspan dy="-3">)</tspan></text>
<text x="9.02" y="13.10" font-family="Liberation Sans" font-size="16.8" fill="rgb(204,24,48)" stroke="rgb(204,24,48)" stroke-width="0.15">y</text><text x="17.51" y="17.00" font-family="Liberation Sans" font-size="10.3" fill="rgb(204,24,48)" stroke="rgb(204,24,48)" stroke-width="0.2" textLength="13.33" lengthAdjust="spacingAndGlyphs">Ap</text>
<text x="35.45" y="13.00" font-family="Liberation Sans" font-size="15.8" fill="rgb(204,24,48)" stroke="rgb(204,24,48)" stroke-width="0.25" textLength="122.94" lengthAdjust="spacingAndGlyphs">= 176.09 - 7.70 t</text>
<g fill="rgb(204,24,48)" stroke="rgb(204,24,48)" stroke-width="0.2"><text x="8.82" y="36.60" font-family="Liberation Serif" font-style="italic" font-size="18">R</text><text x="20.45" y="31.40" font-family="Liberation Serif" font-size="12">2</text><text x="30.86" y="36.60" font-family="Liberation Serif" font-size="18" textLength="205.72" lengthAdjust="spacingAndGlyphs">= 0.10; <tspan font-style="italic">F</tspan> = 14.90; <tspan font-style="italic">P</tspan> &lt; 0.01</text></g>
<text x="8.47" y="58.60" font-family="Liberation Sans" font-size="16.8" fill="rgb(68,114,206)" stroke="rgb(68,114,206)" stroke-width="0.15">y</text><text x="16.93" y="62.50" font-family="Liberation Sans" font-size="10.3" fill="rgb(68,114,206)" stroke="rgb(68,114,206)" stroke-width="0.2" textLength="13.81" lengthAdjust="spacingAndGlyphs">Au</text>
<text x="34.91" y="58.40" font-family="Liberation Sans" font-size="15.8" fill="rgb(68,114,206)" stroke="rgb(68,114,206)" stroke-width="0.25" textLength="123.22" lengthAdjust="spacingAndGlyphs">= 153.81 - 1.77 t</text>
<g fill="rgb(68,114,206)" stroke="rgb(68,114,206)" stroke-width="0.2"><text x="8.82" y="81.60" font-family="Liberation Serif" font-style="italic" font-size="18">R</text><text x="20.45" y="76.40" font-family="Liberation Serif" font-size="12">2</text><text x="30.92" y="81.60" font-family="Liberation Serif" font-size="18" textLength="194.39" lengthAdjust="spacingAndGlyphs">= 0.01; <tspan font-style="italic">F</tspan> = 1.04; <tspan font-style="italic">P</tspan> = 0.31</text></g>
<text x="369.69" y="13.10" font-family="Liberation Sans" font-size="16.8" fill="rgb(204,24,48)" stroke="rgb(204,24,48)" stroke-width="0.15">y</text><text x="377.37" y="17.00" font-family="Liberation Sans" font-size="10.3" fill="rgb(204,24,48)" stroke="rgb(204,24,48)" stroke-width="0.2" textLength="14.15" lengthAdjust="spacingAndGlyphs">Bp</text>
<text x="396.17" y="13.00" font-family="Liberation Sans" font-size="15.8" fill="rgb(204,24,48)" stroke="rgb(204,24,48)" stroke-width="0.25" textLength="113.62" lengthAdjust="spacingAndGlyphs">= 48.81 - 2.10 t</text>
<g fill="rgb(204,24,48)" stroke="rgb(204,24,48)" stroke-width="0.2"><text x="369.64" y="36.60" font-family="Liberation Serif" font-style="italic" font-size="18">R</text><text x="381.12" y="31.40" font-family="Liberation Serif" font-size="12">2</text><text x="391.73" y="36.60" font-family="Liberation Serif" font-size="18" textLength="206.61" lengthAdjust="spacingAndGlyphs">= 0.10; <tspan font-style="italic">F</tspan> = 15.26; <tspan font-style="italic">P</tspan> &lt; 0.01</text></g>
<text x="369.20" y="58.60" font-family="Liberation Sans" font-size="16.8" fill="rgb(68,114,206)" stroke="rgb(68,114,206)" stroke-width="0.15">y</text><text x="376.94" y="62.50" font-family="Liberation Sans" font-size="10.3" fill="rgb(68,114,206)" stroke="rgb(68,114,206)" stroke-width="0.2" textLength="14.64" lengthAdjust="spacingAndGlyphs">Bu</text>
<text x="395.77" y="58.40" font-family="Liberation Sans" font-size="15.8" fill="rgb(68,114,206)" stroke="rgb(68,114,206)" stroke-width="0.25" textLength="114.52" lengthAdjust="spacingAndGlyphs">= 34.68 - 0.04 t</text>
<g fill="rgb(68,114,206)" stroke="rgb(68,114,206)" stroke-width="0.2"><text x="369.64" y="81.60" font-family="Liberation Serif" font-style="italic" font-size="18">R</text><text x="381.12" y="76.40" font-family="Liberation Serif" font-size="12">2</text><text x="391.50" y="81.60" font-family="Liberation Serif" font-size="18" textLength="197.32" lengthAdjust="spacingAndGlyphs">&lt; 0.01; <tspan font-style="italic">F</tspan> = 0.01; <tspan font-style="italic">P</tspan> = 0.93</text></g>
</svg>
</body></html>
